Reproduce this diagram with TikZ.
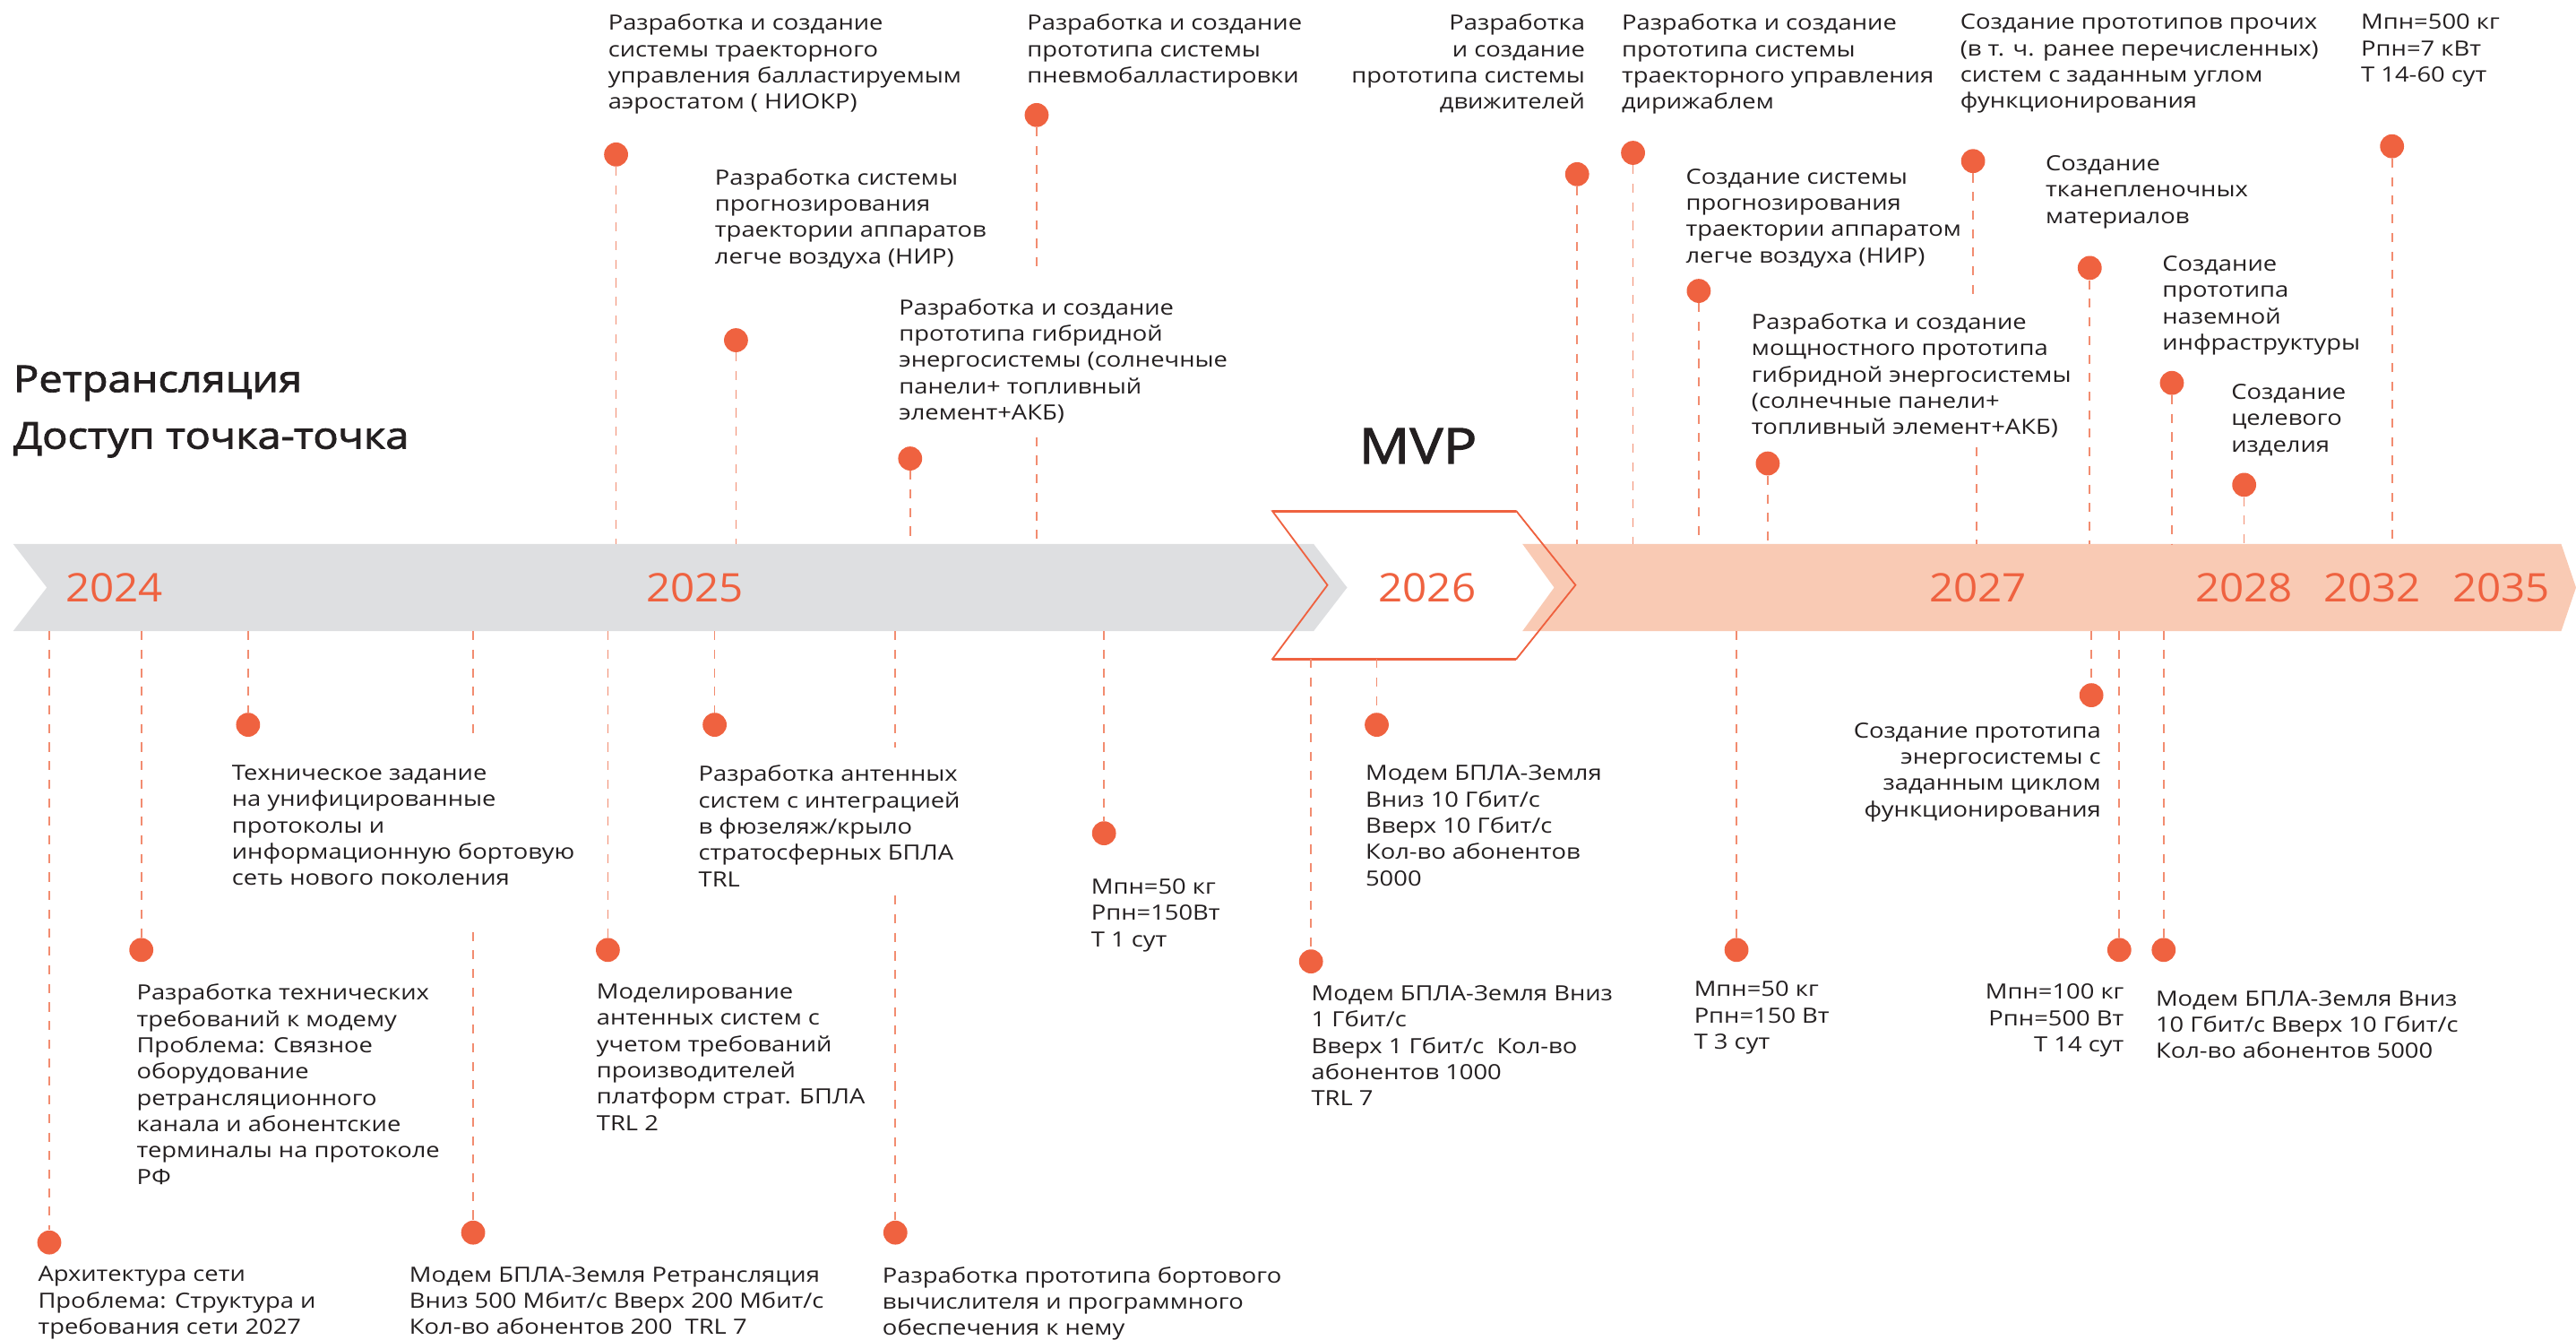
\documentclass[tikz,border=0pt]{standalone}
\usepackage{fontspec}
\setmainfont{Open Sans}[FakeStretch=1.17]
\newfontfamily\ttlfont{Open Sans}[FakeStretch=1.14,FakeBold=2]
\newfontfamily\yrfam{Open Sans}[FakeStretch=1.08]
\definecolor{orc}{HTML}{EF6240}
\definecolor{orl}{HTML}{F28C70}
\definecolor{pinkband}{HTML}{F9CAB4}
\definecolor{grayband}{HTML}{DEDFE1}
\definecolor{tx}{HTML}{231F20}
\tikzset{
  dot/.style={circle, fill=orc, minimum size=14.6pt, inner sep=0pt},
  lead/.style={draw=orl, line width=0.9pt, dash pattern=on 5.5pt off 5.8pt},
  txt/.style={anchor=north west, align=left, inner sep=0pt, text=tx, font=\fontsize{12.75}{16}\selectfont},
  txtr/.style={txt, anchor=north east, align=right},
  yr/.style={anchor=base, inner sep=0pt, text=orc, font=\yrfam\fontsize{24}{28}\selectfont},
  ttl/.style={anchor=base west, inner sep=0pt, text=tx, font=\ttlfont\fontsize{22.5}{26}\selectfont}
}
\begin{document}
\begin{tikzpicture}[x=1pt,y=-1pt]
\useasboundingbox (0,0) rectangle (1568,815);
% bands
\fill[grayband] (8,331) -- (799.6,331) -- (820,357.5) -- (799.6,384) -- (8,384) -- (28.5,357.5) -- cycle;
\fill[pinkband] (926.7,331) -- (1559,331) -- (1568,357.5) -- (1559,384) -- (926.7,384) -- (946,357.5) -- cycle;
\draw[orc, line width=1pt, line join=miter] (774.5,311) -- (923,311) -- (959,356) -- (923,401) -- (774.5,401) -- (808,356) -- cycle;
\draw[orc, line width=1.6pt] (774.5,311) -- (923,311) (774.5,401) -- (923,401);
% years
\node[yr] (y24) at (69.5,366) {2024};
\node[yr] (y25) at (423,366) {2025};
\node[yr] (y26) at (868.7,366) {2026};
\node[yr] (y27) at (1204,366) {2027};
\node[yr] (y28) at (1366,366) {2028};
\node[yr] (y32) at (1444,366) {2032};
\node[yr] (y35) at (1522.5,366) {2035};
% titles
\node[ttl] (t1) at (8,238.5) {Ретрансляция};
\node[ttl] (t2) at (8,273) {Доступ точка-точка};
\node[ttl, font=\ttlfont\fontsize{30}{34}\selectfont] (mvp) at (827,282) {MVP};

% ---------- upper events ----------
\node[txt] (u1) at (370,8.5) {Разработка и создание\\системы траекторного\\управления балластируемым\\аэростатом ( НИОКР)};
\node[dot] (d1) at (375,94) {};
\coordinate (b1) at (375,331);
\draw[lead] (d1) -- (b1);

\node[txt] (u2) at (435,102.5) {Разработка системы\\прогнозирования\\траектории аппаратов\\легче воздуха (НИР)};
\node[dot] (d2) at (448,207) {};
\coordinate (b2) at (448,331);
\draw[lead] (d2) -- (b2);

\node[txt] (u3) at (547,181.5) {Разработка и создание\\прототипа гибридной\\энергосистемы (солнечные\\панели+ топливный\\элемент+АКБ)};
\node[dot] (d3) at (554,279) {};
\coordinate (b3) at (554,331);
\draw[lead] (d3) -- (b3);

\node[txt] (u4) at (625,8.5) {Разработка и создание\\прототипа системы\\пневмобалластировки};
\node[dot] (d4) at (631,70) {};
\coordinate (g4a) at (631,167);
\coordinate (g4b) at (631,266);
\coordinate (b4) at (631,331);
\draw[lead] (d4) -- (g4a);
\draw[lead] (g4b) -- (b4);

\node[txtr] (u5) at (965,8.5) {Разработка\\и создание\\прототипа системы\\движителей};
\node[dot] (d5) at (960,106) {};
\coordinate (b5) at (960,331);
\draw[lead] (d5) -- (b5);

\node[txt] (u6) at (987,8.5) {Разработка и создание\\прототипа системы\\траекторного управления\\дирижаблем};
\node[dot] (d6) at (994,93) {};
\coordinate (b6) at (994,331);
\draw[lead] (d6) -- (b6);

\node[txt] (u7) at (1026,102.5) {Создание системы\\прогнозирования\\траектории аппаратом\\легче воздуха (НИР)};
\node[dot] (d7) at (1034,177) {};
\coordinate (b7) at (1034,331);
\draw[lead] (d7) -- (b7);

\node[txt] (u8) at (1066,190.5) {Разработка и создание\\мощностного прототипа\\гибридной энергосистемы\\(солнечные панели+\\топливный элемент+АКБ)};
\node[dot] (d8) at (1076,282) {};
\coordinate (b8) at (1076,331);
\draw[lead] (d8) -- (b8);

\node[txt] (u9) at (1193,8.5) {Создание прототипов прочих\\(в т. ч. ранее перечисленных)\\систем с заданным углом\\функционирования};
\node[dot] (d9) at (1201,98) {};
\coordinate (g9a) at (1201,183);
\coordinate (g9b) at (1203,272);
\coordinate (b9) at (1203,331);
\draw[lead] (d9) -- (g9a);
\draw[lead] (g9b) -- (b9);

\node[txt] (u10) at (1245,94.5) {Создание\\тканепленочных\\материалов};
\node[dot] (d10) at (1272,163) {};
\coordinate (b10) at (1272,331);
\draw[lead] (d10) -- (b10);

\node[txt] (u11) at (1316,155.5) {Создание\\прототипа\\наземной\\инфраструктуры};
\node[dot] (d11) at (1322,233) {};
\coordinate (b11) at (1322,331);
\draw[lead] (d11) -- (b11);

\node[txt] (u12) at (1358,233.5) {Создание\\целевого\\изделия};
\node[dot] (d12) at (1366,295) {};
\coordinate (b12) at (1366,331);
\draw[lead] (d12) -- (b12);

\node[txt] (u13) at (1437,8.5) {Мпн=500 кг\\Рпн=7 кВт\\Т 14-60 сут};
\node[dot] (d13) at (1456,89) {};
\coordinate (b13) at (1456,331);
\draw[lead] (d13) -- (b13);

% ---------- lower events ----------
\node[txt] (l1) at (23,770.5) {Архитектура сети\\Проблема: Структура и\\требования сети 2027};
\node[dot] (e1) at (30,756) {};
\coordinate (c1) at (30,384);
\draw[lead] (c1) -- (e1);

\node[txt] (l2) at (83,598.5) {Разработка технических\\требований к модему\\Проблема: Связное\\оборудование\\ретрансляционного\\канала и абонентские\\терминалы на протоколе\\РФ};
\node[dot] (e2) at (86,578) {};
\coordinate (c2) at (86,384);
\draw[lead] (c2) -- (e2);

\node[txt] (l3) at (141,465.5) {Техническое задание\\на унифицированные\\протоколы и\\информационную бортовую\\сеть нового поколения};
\node[dot] (e3) at (151,441) {};
\coordinate (c3) at (151,384);
\draw[lead] (c3) -- (e3);

\node[txt] (l4) at (249,770.5) {Модем БПЛА-Земля Ретрансляция\\Вниз 500 Мбит/с Вверх 200 Мбит/с\\Кол-во абонентов 200~~TRL 7};
\node[dot] (e4) at (288,750) {};
\coordinate (c4) at (288,384);
\coordinate (h4a) at (288,448);
\coordinate (h4b) at (288,567);
\draw[lead] (c4) -- (h4a);
\draw[lead] (h4b) -- (e4);

\node[txt] (l5) at (363,598.5) {Моделирование\\антенных систем с\\учетом требований\\производителей\\платформ страт. БПЛА\\TRL 2};
\node[dot] (e5) at (370,578) {};
\coordinate (c5) at (370,384);
\draw[lead] (c5) -- (e5);

\node[txt] (l6) at (425,465.5) {Разработка антенных\\систем с интеграцией\\в фюзеляж/крыло\\стратосферных БПЛА\\TRL};
\node[dot] (e6) at (435,441) {};
\coordinate (c6) at (435,384);
\draw[lead] (c6) -- (e6);

\node[txt] (l7) at (537,770.5) {Разработка прототипа бортового\\вычислителя и программного\\обеспечения к нему};
\node[dot] (e7) at (545,750) {};
\coordinate (c7) at (545,384);
\coordinate (h7a) at (545,455);
\coordinate (h7b) at (545,545);
\draw[lead] (c7) -- (h7a);
\draw[lead] (h7b) -- (e7);

\node[txt] (l8) at (664,534.5) {Мпн=50 кг\\Рпн=150Вт\\Т 1 сут};
\node[dot] (e8) at (672,507) {};
\coordinate (c8) at (672,384);
\draw[lead] (c8) -- (e8);

\node[txt] (l9) at (798,599.5) {Модем БПЛА-Земля Вниз\\1 Гбит/с\\Вверх 1 Гбит/с~~Кол-во\\абонентов 1000\\TRL 7};
\node[dot] (e9) at (798,585) {};
\coordinate (c9) at (798,401);
\draw[lead] (c9) -- (e9);

\node[txt] (l10) at (831,465.5) {Модем БПЛА-Земля\\Вниз 10 Гбит/с\\Вверх 10 Гбит/с\\Кол-во абонентов\\5000};
\node[dot] (e10) at (838,441) {};
\coordinate (c10) at (838,401);
\draw[lead] (c10) -- (e10);

\node[txt] (l11) at (1031,597) {Мпн=50 кг\\Рпн=150 Вт\\Т 3 сут};
\node[dot] (e11) at (1057,578) {};
\coordinate (c11) at (1057,384);
\draw[lead] (c11) -- (e11);

\node[txtr] (l12) at (1279,439.5) {Создание прототипа\\энергосистемы с\\заданным циклом\\функционирования};
\node[dot] (e12) at (1273,423) {};
\coordinate (c12) at (1273,384);
\draw[lead] (c12) -- (e12);

\node[txtr] (l13) at (1293,598.5) {Мпн=100 кг\\Рпн=500 Вт\\Т 14 сут};
\node[dot] (e13) at (1290,578) {};
\coordinate (c13) at (1290,384);
\draw[lead] (c13) -- (e13);

\node[txt] (l14) at (1312,602.5) {Модем БПЛА-Земля Вниз\\10 Гбит/с Вверх 10 Гбит/с\\Кол-во абонентов 5000};
\node[dot] (e14) at (1317,578) {};
\coordinate (c14) at (1317,384);
\draw[lead] (c14) -- (e14);
\end{tikzpicture}
\end{document}
